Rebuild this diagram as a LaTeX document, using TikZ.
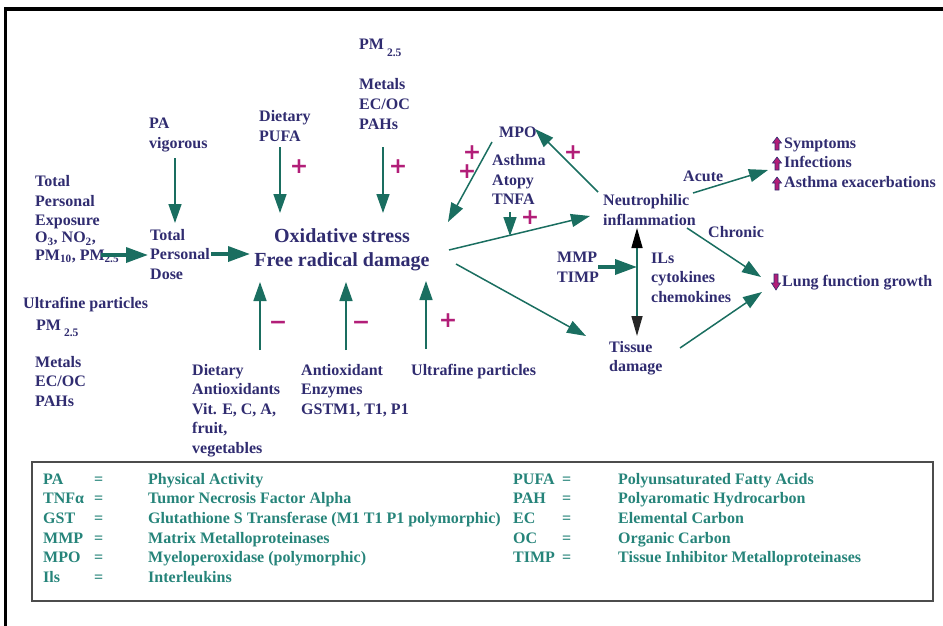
\documentclass[tikz,border=0pt]{standalone}
\usepackage{fontspec}
\setmainfont{Liberation Serif}
\newfontfamily\symfont{DejaVu Sans}
\usetikzlibrary{arrows.meta}
\definecolor{navy}{RGB}{48,44,112}
\definecolor{tealarr}{RGB}{26,110,96}
\definecolor{legteal}{RGB}{38,132,122}
\definecolor{mag}{RGB}{178,30,120}
\begin{document}
\begin{tikzpicture}[x=1pt,y=-1pt,
  lbl/.style={anchor=base west,align=left,inner sep=0pt,text=navy,font=\fontsize{16}{19.6}\selectfont\bfseries},
  big/.style={anchor=base,align=center,inner sep=0pt,text=navy,font=\fontsize{20}{24}\selectfont\bfseries},
  leg/.style={anchor=base west,inner sep=0pt,text=legteal,font=\fontsize{16}{19.6}\selectfont\bfseries},
  sign/.style={inner sep=0pt,text=mag,font=\symfont\bfseries\fontsize{22}{22}\selectfont},
  arr/.style={draw=tealarr,line width=1.5pt,-{Triangle[length=19pt,width=13pt]}},
  thickarr/.style={draw=tealarr,line width=3.5pt,-{Triangle[length=22pt,width=15pt]}},
  dblarr/.style={draw=tealarr,line width=1.5pt,{Triangle[length=20pt,width=11pt,color=black]}-{Triangle[length=20pt,width=11pt,color=black!85]}},
  icon/.style={fill=mag,draw=navy,line width=0.6pt},
  uparr/.pic={\path[icon] (0,0) -- (4.5,6) -- (2,6) -- (2,13) -- (-2,13) -- (-2,6) -- (-4.5,6) -- cycle;},
  dnarr/.pic={\path[icon] (-2,0) -- (2,0) -- (2,9) -- (4.5,9) -- (0,16) -- (-4.5,9) -- (-2,9) -- cycle;},
]
\useasboundingbox (0,0) rectangle (943,626);
% outer frame
\draw[line width=3.5pt,black] (5.5,626) -- (5.5,9) -- (943,9);

% ---- text nodes (multi-line nodes are placed by the baseline of their last line)
\node[lbl] (exp) at (35,260) {Total\\Personal\\Exposure\\[-2.5pt]O\textsubscript{3}, NO\textsubscript{2},\\[-2.5pt]PM\textsubscript{10}, PM\textsubscript{2.5}};
\node[lbl] (ufp1) at (23,308) {Ultrafine particles};
\node[lbl] (pm1) at (36,330) {PM\hspace{3pt}\raisebox{-6pt}{\fontsize{11.5}{11.5}\selectfont 2.5}};
\node[lbl] (met1) at (35,406.5) {Metals\\EC/OC\\PAHs};
\node[lbl] (pa) at (149,148) {PA\\vigorous};
\node[lbl] (dose) at (150,279.2) {Total\\Personal\\Dose};
\node[lbl] (pufa) at (259,141) {Dietary\\PUFA};
\node[lbl] (pm2) at (359,50) {PM\hspace{3pt}\raisebox{-6pt}{\fontsize{11.5}{11.5}\selectfont 2.5}};
\node[lbl] (met2) at (359,129.2) {Metals\\EC/OC\\PAHs};
\node[big] (ox) at (342,266) {Oxidative stress\\Free radical damage};
\node[lbl] (diet) at (192,453.4) {Dietary\\Antioxidants\\Vit. E, C, A,\\fruit,\\vegetables};
\node[lbl] (enz) at (301,414.2) {Antioxidant\\Enzymes\\GSTM1, T1, P1};
\node[lbl] (ufp2) at (411,375) {Ultrafine particles};
\node[lbl] (mpo) at (499,137) {MPO};
\node[lbl] (ast) at (492,204.8) {Asthma\\Atopy\\TNFA};
\node[lbl] (neu) at (603,225.4) {Neutrophilic\\inflammation};
\node[lbl] (mmp) at (557,282.4) {MMP\\TIMP};
\node[lbl] (ils) at (651,302.2) {ILs\\cytokines\\chemokines};
\node[lbl] (tis) at (609,371.6) {Tissue\\damage};
\node[lbl] (acute) at (683,181) {Acute};
\node[lbl] (chronic) at (708,237) {Chronic};
\node[lbl] (symp) at (784,187.4) {Symptoms\\Infections\\Asthma exacerbations};
\node[lbl] (lung) at (782,286) {Lung function growth};

% icons
\pic at (777,137) {uparr};
\pic at (777,157) {uparr};
\pic at (777,177) {uparr};
\pic at (776,274) {dnarr};

% ---- connector end points
\coordinate (expE) at (101,255);
\coordinate (doseW) at (148,255);
\coordinate (doseE) at (211,254);
\coordinate (oxW) at (250,254);
\coordinate (paS) at (175,158);
\coordinate (doseN) at (175,223);
\coordinate (pufaS) at (280,147);
\coordinate (oxN1) at (280,213);
\coordinate (metS) at (383,147);
\coordinate (oxN2) at (383,213);
\coordinate (dietN) at (260,350);
\coordinate (oxS1) at (260,282);
\coordinate (enzN) at (346,350);
\coordinate (oxS2) at (346,282);
\coordinate (ufpN) at (426,349);
\coordinate (oxS3) at (426,281);
\coordinate (oxE1) at (449,250);
\coordinate (neuW) at (590,216);
\coordinate (oxE2) at (456,264);
\coordinate (tisN) at (586,336);
\coordinate (mpoS) at (492,142);
\coordinate (oxNE) at (448,222);
\coordinate (neuNW) at (598,192);
\coordinate (mpoE) at (535,129);
\coordinate (tnfS) at (510,212);
\coordinate (onLine) at (510,236);
\coordinate (mmpE) at (598,267);
\coordinate (vert) at (637,267);
\coordinate (neuS) at (637,228);
\coordinate (tisT) at (637,336);
\coordinate (neuSE) at (687,228);
\coordinate (lungNW) at (761,277);
\coordinate (tisE) at (680,348);
\coordinate (lungW) at (762,292);
\coordinate (neuNE) at (693,193);
\coordinate (sympW) at (768,170);

% ---- connectors
\draw[thickarr] (expE) -- (doseW);
\draw[thickarr] (doseE) -- (oxW);
\draw[arr] (paS) -- (doseN);
\draw[arr] (pufaS) -- (oxN1);
\draw[arr] (metS) -- (oxN2);
\draw[arr] (dietN) -- (oxS1);
\draw[arr] (enzN) -- (oxS2);
\draw[arr] (ufpN) -- (oxS3);
\draw[arr] (oxE1) -- (neuW);
\draw[arr] (oxE2) -- (tisN);
\draw[arr] (mpoS) -- (oxNE);
\draw[arr] (neuNW) -- (mpoE);
\draw[arr] (tnfS) -- (onLine);
\draw[thickarr] (mmpE) -- (vert);
\draw[dblarr] (neuS) -- (tisT);
\draw[arr] (neuSE) -- (lungNW);
\draw[arr] (tisE) -- (lungW);
\draw[arr] (neuNE) -- (sympW);

% ---- signs
\node[sign] (s1) at (299,167) {+};
\node[sign] (s2) at (398,167) {+};
\node[sign] (s3) at (278,325) {−};
\node[sign] (s4) at (361,325) {−};
\node[sign] (s5) at (448,321) {+};
\node[sign] (s6) at (472,153) {+};
\node[sign] (s7) at (467,172) {+};
\node[sign] (s8) at (573,153) {+};
\node[sign] (s9) at (530,218) {+};

% ---- legend
\draw[draw=black!70,line width=1.3pt] (32,462) rectangle (933,601);
\foreach \ab/\df [count=\i] in {PA/Physical Activity,TNFα/Tumor Necrosis Factor Alpha,GST/Glutathione S Transferase (M1 T1 P1 polymorphic),MMP/Matrix Metalloproteinases,MPO/Myeloperoxidase (polymorphic),Ils/Interleukins}{
  \node[leg] (la\i) at (43,{484+(\i-1)*19.7}) {\ab};
  \node[leg] (le\i) at (94,{484+(\i-1)*19.7}) {=};
  \node[leg] (ld\i) at (148,{484+(\i-1)*19.7}) {\df};
}
\foreach \ab/\df [count=\i] in {PUFA/Polyunsaturated Fatty Acids,PAH/Polyaromatic Hydrocarbon,EC/Elemental Carbon,OC/Organic Carbon,TIMP/Tissue Inhibitor Metalloproteinases}{
  \node[leg] (ra\i) at (513,{484+(\i-1)*19.7}) {\ab};
  \node[leg] (re\i) at (562,{484+(\i-1)*19.7}) {=};
  \node[leg] (rd\i) at (618,{484+(\i-1)*19.7}) {\df};
}
\end{tikzpicture}
\end{document}
